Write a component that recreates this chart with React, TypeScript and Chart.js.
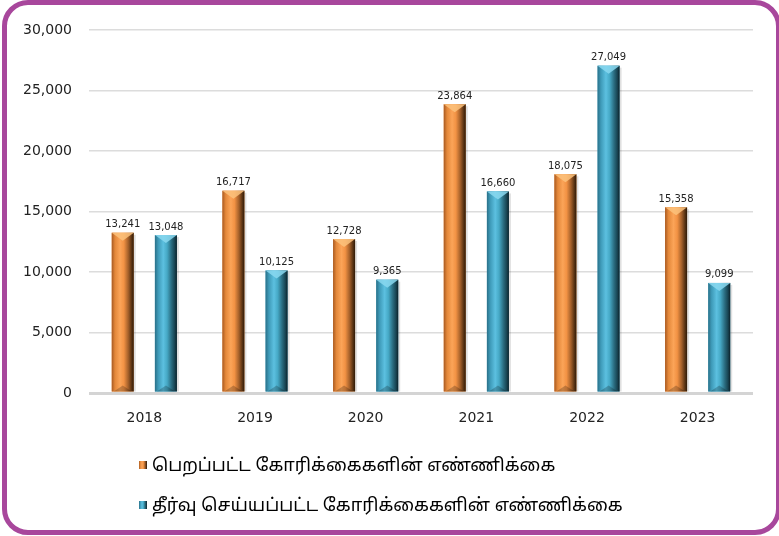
import React, { useEffect, useRef } from "react";
import { Chart, registerables } from "chart.js";

Chart.register(...registerables);

const categories = ["2018", "2019", "2020", "2021", "2022", "2023"];
const receivedValues = [13241, 16717, 12728, 23864, 18075, 15358];
const resolvedValues = [13048, 10125, 9365, 16660, 27049, 9099];
const seriesNames = [
  "பெறப்பட்ட கோரிக்கைகளின் எண்ணிக்கை",
  "தீர்வு செய்யப்பட்ட கோரிக்கைகளின் எண்ணிக்கை",
];
const yMin = 0;
const yMax = 30000;
const yStep = 5000;

const ORANGE_STOPS: [number, string][] = [
  [0, "#a85a22"],
  [0.15, "#e4883a"],
  [0.38, "#fba458"],
  [0.55, "#f29244"],
  [0.75, "#a4602a"],
  [0.9, "#5a3414"],
  [1, "#2e1a08"],
];
const TEAL_STOPS: [number, string][] = [
  [0, "#2a7088"],
  [0.15, "#3e9ab8"],
  [0.38, "#5cc0e0"],
  [0.55, "#46a9c6"],
  [0.75, "#2a6c80"],
  [0.9, "#184452"],
  [1, "#0c2028"],
];
const CAP_COLORS = ["#fcc27c", "#8ad8f0"];
const BASE_COLORS = ["#f59a4a", "#4aaccc"];
const FONT = "'DejaVu Sans', Verdana, sans-serif";
const TAMIL_FONT = "'Noto Sans Tamil', 'Lohit Tamil', 'Noto Serif Tamil', 'DejaVu Sans', sans-serif";

const fmt = (v: number) => v.toLocaleString("en-US");

const barStylePlugin = {
  id: "barStyle",
  afterDatasetsDraw(chart: any) {
    const ctx = chart.ctx as CanvasRenderingContext2D;
    chart.data.datasets.forEach((_ds: any, di: number) => {
      const meta = chart.getDatasetMeta(di);
      const stops = di === 0 ? ORANGE_STOPS : TEAL_STOPS;
      meta.data.forEach((bar: any, i: number) => {
        const { x, y, base, width } = bar.getProps(["x", "y", "base", "width"], true);
        const l = x - width / 2;
        const r = x + width / 2;
        const top = Math.min(y, base);
        const bot = Math.max(y, base);
        ctx.save();
        ctx.fillStyle = "rgba(0,0,0,0.12)";
        ctx.fillRect(r, top + 2, 2, bot - top - 2);
        const g = ctx.createLinearGradient(l, 0, r, 0);
        stops.forEach(([o, c]) => g.addColorStop(o, c));
        ctx.fillStyle = g;
        ctx.fillRect(l, top, width, bot - top);
        const capH = Math.min(8, (bot - top) / 2);
        ctx.beginPath();
        ctx.moveTo(l, top);
        ctx.lineTo(r, top);
        ctx.lineTo(x, top + capH);
        ctx.closePath();
        ctx.fillStyle = CAP_COLORS[di];
        ctx.globalAlpha = 0.85;
        ctx.fill();
        ctx.globalAlpha = 1;
        ctx.beginPath();
        ctx.moveTo(l + 2, bot);
        ctx.lineTo(r - 2, bot);
        ctx.lineTo(x, bot - 6);
        ctx.closePath();
        ctx.fillStyle = "rgba(0,0,0,0.22)";
        ctx.fill();
        const v = chart.data.datasets[di].data[i];
        ctx.fillStyle = "#222";
        ctx.font = `10px ${FONT}`;
        ctx.textAlign = "center";
        ctx.textBaseline = "bottom";
        ctx.fillText(fmt(v), x, top - 3);
        ctx.restore();
      });
    });
  },
};

const legendPlugin = {
  id: "customLegend",
  afterDraw(chart: any) {
    const ctx = chart.ctx as CanvasRenderingContext2D;
    const area = chart.chartArea;
    const x0 = area.left + 50;
    const rows = [area.bottom + 74, area.bottom + 114];
    ctx.save();
    seriesNames.forEach((name, i) => {
      const cy = rows[i];
      const stops = i === 0 ? ORANGE_STOPS : TEAL_STOPS;
      const g = ctx.createLinearGradient(x0, 0, x0 + 8, 0);
      stops.forEach(([o, c]) => g.addColorStop(o, c));
      ctx.fillStyle = g;
      ctx.fillRect(x0, cy - 6, 8, 8);
      ctx.fillStyle = "#000";
      ctx.font = `18px ${TAMIL_FONT}`;
      ctx.textAlign = "left";
      ctx.textBaseline = "middle";
      ctx.fillText(name, x0 + 13, cy);
    });
    ctx.restore();
  },
};

export default function App() {
  const canvasRef = useRef<HTMLCanvasElement | null>(null);

  useEffect(() => {
    if (!canvasRef.current) return;
    const chart = new Chart(canvasRef.current, {
      type: "bar",
      data: {
        labels: categories,
        datasets: [
          {
            label: seriesNames[0],
            data: receivedValues,
            backgroundColor: BASE_COLORS[0],
            categoryPercentage: 0.78,
            barPercentage: 0.51,
          },
          {
            label: seriesNames[1],
            data: resolvedValues,
            backgroundColor: BASE_COLORS[1],
            categoryPercentage: 0.78,
            barPercentage: 0.51,
          },
        ],
      },
      options: {
        animation: false,
        responsive: true,
        maintainAspectRatio: false,
        layout: { padding: { left: 0, right: 26, top: 30, bottom: 103 } },
        plugins: {
          legend: { display: false },
          tooltip: { enabled: false },
        },
        scales: {
          x: {
            grid: { display: false, drawTicks: false },
            border: { display: false },
            ticks: {
              color: "#222",
              font: { family: FONT, size: 14 },
              padding: 17,
            },
            afterFit: (s: any) => {
              s.height = 40;
            },
          },
          y: {
            min: yMin,
            max: yMax,
            grid: {
              drawTicks: false,
              color: (c: any) => (c.tick && c.tick.value === 0 ? "#d4d4d4" : "#dcdcdc"),
              lineWidth: (c: any) => (c.tick && c.tick.value === 0 ? 3 : 1.5),
            },
            border: { display: false },
            ticks: {
              stepSize: yStep,
              color: "#222",
              font: { family: FONT, size: 14 },
              padding: 17,
              callback: (v: any) => fmt(Number(v)),
            },
            afterFit: (s: any) => {
              s.width = 89;
            },
          },
        },
      },
      plugins: [barStylePlugin, legendPlugin],
    });
    return () => chart.destroy();
  }, []);

  return (
    <>
      <div style={{ position: "fixed", left: 0, top: 0, width: 779, height: 536, background: "#fff" }}>
        <canvas ref={canvasRef} />
      </div>
      <div
        style={{
          position: "fixed",
          left: 2,
          top: 0,
          width: 779,
          height: 535,
          boxSizing: "border-box",
          border: "5px solid #a8479c",
          borderRadius: 26,
          pointerEvents: "none",
        }}
      />
    </>
  );
}
